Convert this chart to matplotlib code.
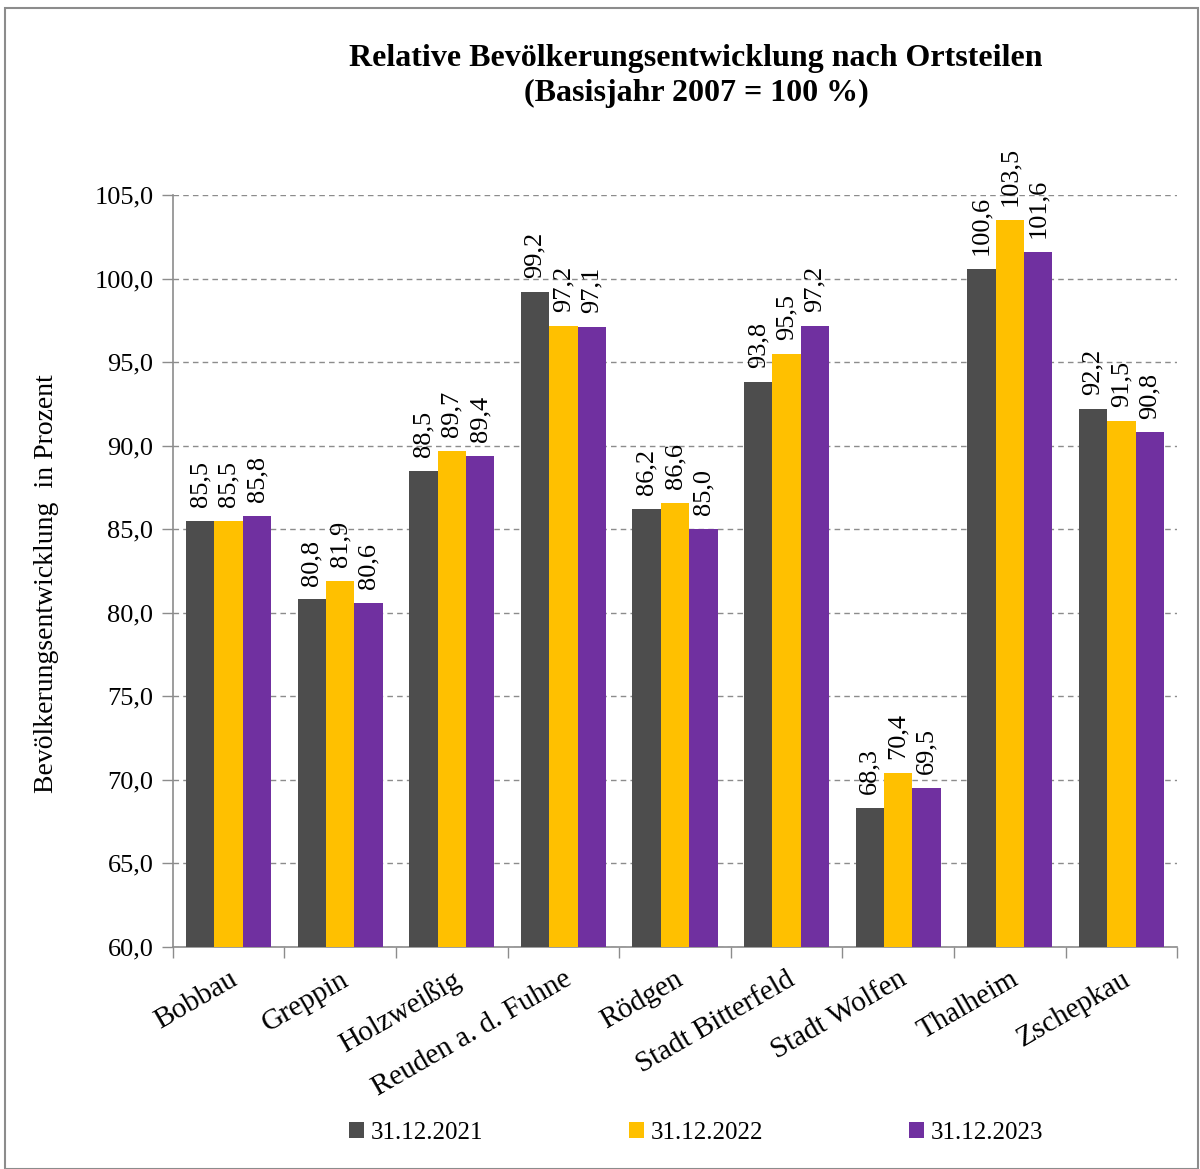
"""
Relative Bevölkerungsentwicklung nach Ortsteilen, Basisjahr 2007 = 100 %.
Grouped bars, three reporting dates per Ortsteil.
"""
import numpy as np
import matplotlib
matplotlib.use("Agg")
import matplotlib.pyplot as plt
from matplotlib.patches import Rectangle

ORTSTEILE = ["Bobbau", "Greppin", "Holzweißig", "Reuden a. d. Fuhne", "Rödgen",
             "Stadt Bitterfeld", "Stadt Wolfen", "Thalheim", "Zschepkau"]
STICHTAGE = ["31.12.2021", "31.12.2022", "31.12.2023"]
WERTE_2021 = [85.5, 80.8, 88.5, 99.2, 86.2, 93.8, 68.3, 100.6, 92.2]
WERTE_2022 = [85.5, 81.9, 89.7, 97.2, 86.6, 95.5, 70.4, 103.5, 91.5]
WERTE_2023 = [85.8, 80.6, 89.4, 97.1, 85.0, 97.2, 69.5, 101.6, 90.8]
Y_TICKS = [60, 65, 70, 75, 80, 85, 90, 95, 100, 105]

FARBEN = ["#4d4d4d", "#ffc000", "#7030a0"]
GRID = "#8c8c8c"

plt.rcParams["font.family"] = ["Liberation Serif", "DejaVu Serif"]


def de(v):
    return f"{v:.1f}".replace(".", ",")


fig = plt.figure(figsize=(12, 11.69), dpi=100)
ax = fig.add_axes([0.144, 0.19, 0.837, 0.643])

x = np.arange(len(ORTSTEILE))
w = 0.255
for i, (serie, farbe, lab) in enumerate(zip([WERTE_2021, WERTE_2022, WERTE_2023],
                                            FARBEN, STICHTAGE)):
    pos = x + (i - 1) * w
    ax.bar(pos, np.array(serie) - 60, bottom=60, width=w, color=farbe,
           label=lab, zorder=3)
    for px, v in zip(pos, serie):
        ax.annotate(de(v), (px, v), xytext=(0, 10), textcoords="offset points",
                    rotation=90, ha="center", va="bottom", fontsize=19)

ax.set_xlim(-0.5, len(ORTSTEILE) - 0.5)
ax.set_ylim(60, 105)
ax.set_yticks(Y_TICKS)
ax.set_yticklabels([de(t) for t in Y_TICKS], fontsize=19)
ax.yaxis.grid(True, linestyle=(0, (4, 3)), color=GRID, linewidth=1, zorder=0)

ax.set_xticks(x)
ax.set_xticklabels(ORTSTEILE, rotation=30, ha="right", rotation_mode="anchor",
                   fontsize=21)
ax.tick_params(axis="x", length=0, pad=14)
ax.set_xticks(np.arange(-0.5, len(ORTSTEILE)), minor=True)
ax.tick_params(axis="x", which="minor", length=8, color=GRID, width=1)
ax.tick_params(axis="y", length=8, color=GRID, width=1, pad=6)

for s in ("top", "right"):
    ax.spines[s].set_visible(False)
for s in ("left", "bottom"):
    ax.spines[s].set_color(GRID)
    ax.spines[s].set_linewidth(1.2)

ax.set_ylabel("Bevölkerungsentwicklung  in Prozent", fontsize=20)
ax.yaxis.set_label_coords(-0.113, 0.483)

fig.text(0.58, 0.935, "Relative Bevölkerungsentwicklung nach Ortsteilen\n(Basisjahr 2007 = 100 %)",
         ha="center", va="center", fontsize=23, fontweight="bold", linespacing=1.25)

fig.legend(loc="center", bbox_to_anchor=(0.58, 0.031), ncol=3, frameon=False,
           fontsize=18, handlelength=0.6, handleheight=0.6, handletextpad=0.3,
           columnspacing=5.8)

fig.patches.append(Rectangle((0.004, 0.0), 0.994, 0.993, transform=fig.transFigure,
                             fill=False, edgecolor="#8c8c8c", linewidth=1.5))

fig.savefig("out.png", dpi=100)
